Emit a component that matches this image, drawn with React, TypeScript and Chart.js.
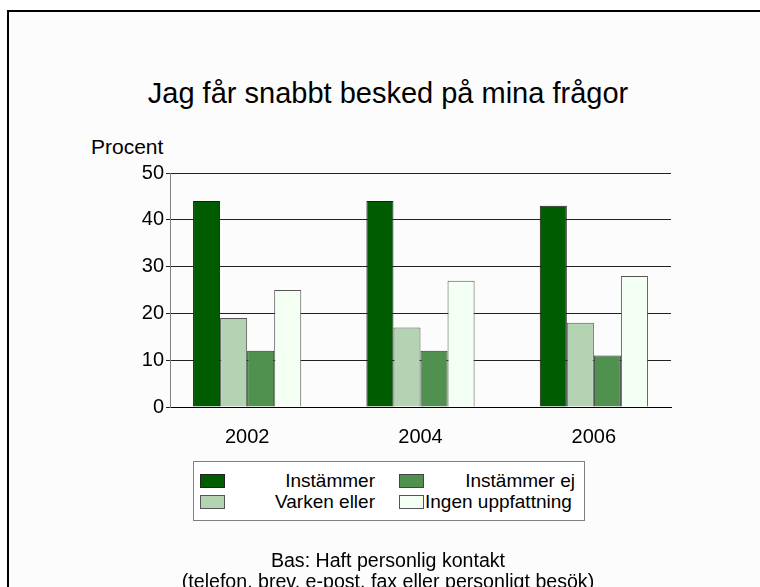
import React, { useEffect, useRef } from "react";
import { Chart, registerables } from "chart.js";

Chart.register(...registerables);

const TITLE = "Jag får snabbt besked på mina frågor";
const Y_TITLE = "Procent";
const YEARS = ["2002", "2004", "2006"];
const INSTAMMER = [44, 44, 43];
const VARKEN_ELLER = [19, 17, 18];
const INSTAMMER_EJ = [12, 12, 11];
const INGEN_UPPFATTNING = [25, 27, 28];
const Y_MIN = 0;
const Y_MAX = 50;
const Y_STEP = 10;
const FOOT_1 = "Bas: Haft personlig kontakt";
const FOOT_2 = "(telefon, brev, e-post, fax eller personligt besök)";

const C_INST = "#005c00";
const C_VARK = "#b3d3b3";
const C_EJ = "#509150";
const C_INGEN = "#f2fff2";

const FONT = "Arial, 'Liberation Sans', sans-serif";

const toPoints = (vals: number[]) => vals.map((v, i) => ({ x: i + 1, y: v }));

export default function App() {
  const ref = useRef<HTMLCanvasElement | null>(null);

  useEffect(() => {
    if (!ref.current) return;
    const chart = new Chart(ref.current, {
      type: "bar",
      data: {
        datasets: [
          { label: "Instämmer", data: toPoints(INSTAMMER), backgroundColor: C_INST, borderColor: "#1a1a1a", borderWidth: 1 },
          { label: "Varken eller", data: toPoints(VARKEN_ELLER), backgroundColor: C_VARK, borderColor: "#555", borderWidth: 1 },
          { label: "Instämmer ej", data: toPoints(INSTAMMER_EJ), backgroundColor: C_EJ, borderColor: "#333", borderWidth: 1 },
          { label: "Ingen uppfattning", data: toPoints(INGEN_UPPFATTNING), backgroundColor: C_INGEN, borderColor: "#555", borderWidth: 1 },
        ] as any,
      },
      options: {
        responsive: false,
        animation: false,
        devicePixelRatio: 1,
        barPercentage: 1,
        categoryPercentage: 0.624,
        layout: { padding: { top: 173, left: 0, right: 89, bottom: 120 } },
        plugins: { legend: { display: false }, title: { display: false }, tooltip: { enabled: false } },
        scales: {
          x: {
            type: "linear",
            offset: false,
            min: 0.555,
            max: YEARS.length + 0.445,
            afterBuildTicks: (scale: any) => {
              scale.ticks = YEARS.map((_, i) => ({ value: i + 1 }));
            },
            afterFit: (scale: any) => {
              scale.height = 60;
            },
            grid: { display: false, offset: false },
            border: { display: true, color: "#000", width: 1 },
            ticks: {
              autoSkip: false,
              maxRotation: 0,
              padding: 10,
              color: "#000",
              font: { family: FONT, size: 20 },
              callback: (v: any) => YEARS[Math.round(Number(v)) - 1] ?? "",
            },
          },
          y: {
            min: Y_MIN,
            max: Y_MAX,
            afterFit: (scale: any) => {
              scale.width = 170;
            },
            grid: { color: "#222", lineWidth: 1, tickLength: 4 },
            border: { display: true, color: "#808080", width: 1 },
            ticks: {
              stepSize: Y_STEP,
              padding: 2,
              color: "#000",
              font: { family: FONT, size: 20 },
            },
          },
        },
      } as any,
    });
    return () => chart.destroy();
  }, []);

  const legendItems = [
    { label: "Instämmer", color: C_INST, border: "#222" },
    { label: "Instämmer ej", color: C_EJ, border: "#444" },
    { label: "Varken eller", color: C_VARK, border: "#555" },
    { label: "Ingen uppfattning", color: C_INGEN, border: "#555" },
  ];

  const text = (s: any): React.CSSProperties => ({
    position: "absolute",
    fontFamily: FONT,
    color: "#000",
    whiteSpace: "nowrap",
    ...s,
  });

  return (
    <div style={{ position: "fixed", left: 0, top: 0, width: 760, height: 587, overflow: "hidden", background: "#fff" }}>
      <div style={{ position: "absolute", left: 7, top: 10, width: 800, height: 700, border: "2px solid #000", background: "#fcfcfc" }} />
      <div style={text({ left: 0, width: 776, top: 76, textAlign: "center", fontSize: 29, lineHeight: "35px" })}>{TITLE}</div>
      <div style={text({ left: 91, top: 134, fontSize: 21, lineHeight: "25px" })}>{Y_TITLE}</div>
      <canvas ref={ref} width={760} height={587} style={{ position: "absolute", left: 0, top: 0, width: 760, height: 587 }} />
      <div style={{ position: "absolute", left: 193, top: 461, width: 390, height: 58, border: "1px solid #808080", background: "#fff" }}>
        {legendItems.map((it, i) => {
          const col = i % 2;
          const row = Math.floor(i / 2);
          const swX = col === 0 ? 6 : 205;
          const top = row === 0 ? 12 : 33;
          return (
            <React.Fragment key={it.label}>
              <div style={{ position: "absolute", left: swX, top, width: 23, height: 12, background: it.color, border: `1px solid ${it.border}` }} />
              <div style={text({ left: swX + 26, width: col === 0 ? 149 : 150, top: top - 4, textAlign: i === 3 ? "left" : "right", fontSize: 19, lineHeight: "22px" })}>{it.label}</div>
            </React.Fragment>
          );
        })}
      </div>
      <div style={text({ left: 0, width: 776, top: 550, textAlign: "center", fontSize: 19.6, lineHeight: "21px" })}>{FOOT_1}</div>
      <div style={text({ left: 0, width: 776, top: 571, textAlign: "center", fontSize: 19.6, lineHeight: "21px" })}>{FOOT_2}</div>
    </div>
  );
}
